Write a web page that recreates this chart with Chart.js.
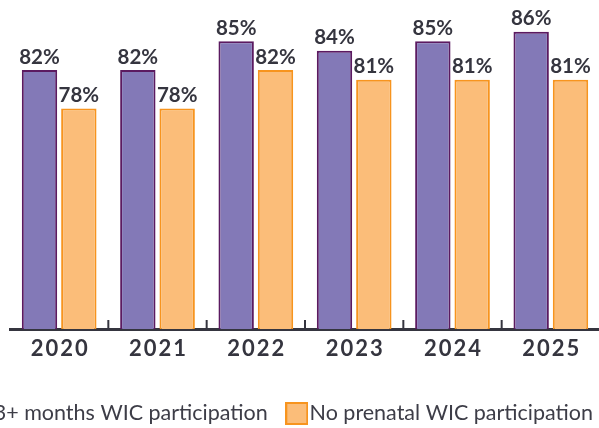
<!DOCTYPE html>
<html><head><meta charset="utf-8">
<script src="https://cdn.jsdelivr.net/npm/chart.js@4/dist/chart.umd.min.js"></script>
<style>
html,body{margin:0;padding:0;background:#fff;overflow:hidden;width:599px;height:428px;}
#wrap{position:absolute;left:-64px;top:0;width:700px;height:428px;}
</style></head><body>
<div id="wrap"><canvas id="c" width="700" height="428"></canvas></div>
<script>
const categories = ['2020','2021','2022','2023','2024','2025'];
const seriesNames = ['3+ months WIC participation','No prenatal WIC participation'];
const wic3Plus = [82,82,85,84,85,86];
const noPrenatal = [78,78,82,81,81,81];
const yMin = 55, yMax = 88;

const TEXT = '#35353f';
const fills = ['#8379b7','#fbbd79'];
const borders = ['#5b1a60','#f7941e'];
const LEG_PAD = 27, LEG_FONT = 21.5;
const X_AXIS_H = 434.25 - (LEG_FONT + LEG_PAD + 10) - 329;

function boxImage(fill, stroke){
  const c = document.createElement('canvas');
  c.width = 23; c.height = 23;
  const x = c.getContext('2d');
  x.fillStyle = fill; x.fillRect(0,0,23,23);
  x.strokeStyle = stroke; x.lineWidth = 2; x.strokeRect(1,1,21,21);
  return c;
}
const legendBoxes = [boxImage(fills[0],borders[0]), boxImage(fills[1],borders[1])];

const valueLabels = {
  id:'valueLabels',
  afterDatasetsDraw(chart){
    const ctx = chart.ctx;
    ctx.save();
    ctx.font = '700 20.5px Lato';
    ctx.fillStyle = TEXT;
    ctx.textAlign = 'center';
    ctx.textBaseline = 'alphabetic';
    chart.data.datasets.forEach((ds, di) => {
      chart.getDatasetMeta(di).data.forEach((bar, i) => {
        ctx.fillText(ds.data[i] + '%', bar.x, bar.y - 6.5);
      });
    });
    ctx.restore();
  }
};
const betweenTicks = {
  id:'betweenTicks',
  afterDraw(chart){
    const s = chart.scales.x, ctx = chart.ctx, b = chart.chartArea.bottom;
    ctx.save();
    ctx.strokeStyle = TEXT; ctx.lineWidth = 2;
    for (let i = 1; i < categories.length; i++){
      const x = (s.getPixelForValue(i-1) + s.getPixelForValue(i)) / 2;
      ctx.beginPath(); ctx.moveTo(x, b); ctx.lineTo(x, b - 9); ctx.stroke();
    }
    ctx.restore();
  }
};
const xLabelSpacing = {
  id:'xLabelSpacing',
  afterLayout(chart){
    const s = chart.scales.x;
    if (s._lsPatched) return;
    const orig = s.drawLabels;
    s.drawLabels = function(ca){
      const ctx = this.ctx;
      ctx.save();
      ctx.letterSpacing = '2px';
      ctx.translate(1, 0);
      orig.call(this, ca);
      ctx.restore();
    };
    s._lsPatched = true;
  }
};

new Chart(document.getElementById('c'), {
  type:'bar',
  data:{
    labels: categories,
    datasets:[
      {label: seriesNames[0], data: wic3Plus, backgroundColor: fills[0], borderColor: borders[0], borderWidth: 2},
      {label: seriesNames[1], data: noPrenatal, backgroundColor: fills[1], borderColor: borders[1], borderWidth: 2}
    ]
  },
  options:{
    responsive:false, animation:false, devicePixelRatio:1,
    layout:{padding:{top:12.5,bottom:-6.25,left:0,right:0}},
    scales:{
      x:{
        grid:{display:false, drawTicks:false},
        border:{display:true, color:TEXT, width:3},
        ticks:{font:{family:'Lato', weight:'700', size:22}, color:TEXT, padding:7},
        afterFit(s){ s.height = X_AXIS_H; }
      },
      y:{
        position:'left', min:yMin, max:yMax,
        ticks:{display:false}, grid:{display:false}, border:{display:false},
        afterFit(s){ s.width = 74; }
      },
      yR:{
        position:'right', min:yMin, max:yMax,
        ticks:{display:false}, grid:{display:false}, border:{display:false},
        afterFit(s){ s.width = 36; }
      }
    },
    plugins:{
      tooltip:{enabled:false},
      legend:{
        position:'bottom',
        labels:{
          font:{family:'Lato', size:LEG_FONT}, color:'#3d3d47',
          usePointStyle:true, pointStyleWidth:4, boxHeight:LEG_FONT, padding:LEG_PAD,
          generateLabels(chart){
            const items = Chart.defaults.plugins.legend.labels.generateLabels(chart);
            items.forEach((it, i) => { it.pointStyle = legendBoxes[i]; });
            return items;
          }
        }
      }
    }
  },
  plugins:[valueLabels, betweenTicks, xLabelSpacing]
});
</script>
</body></html>
